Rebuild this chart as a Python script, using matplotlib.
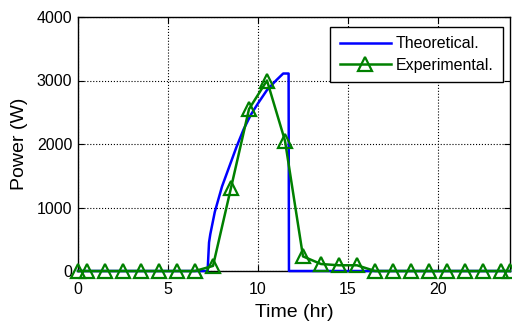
import matplotlib
matplotlib.use("Agg")
import matplotlib.pyplot as plt

# Theoretical curve
theo_t = [0, 7.2, 7.28, 7.35, 7.6, 8.0, 8.4, 8.8, 9.2, 9.6, 10.0, 10.5, 11.0, 11.4, 11.7, 11.72, 24]
theo_p = [0, 0, 450, 580, 930, 1330, 1640, 1950, 2230, 2460, 2640, 2850, 3000, 3110, 3110, 0, 0]

# Experimental points
exp_t = [0, 0.5, 1.5, 2.5, 3.5, 4.5, 5.5, 6.5, 7.5, 8.5, 9.5, 10.5, 11.5, 12.5, 13.5,
         14.5, 15.5, 16.5, 17.5, 18.5, 19.5, 20.5, 21.5, 22.5, 23.5, 24]
exp_p = [0, 0, 0, 0, 0, 0, 0, 0, 80, 1310, 2550, 3000, 2050, 230, 110,
         90, 90, 0, 0, 0, 0, 0, 0, 0, 0, 0]

xticks = [0, 5, 10, 15, 20]
yticks = [0, 1000, 2000, 3000, 4000]

plt.rcParams['font.family'] = ['Liberation Sans', 'DejaVu Sans']

fig = plt.figure(figsize=(5.12, 3.22), dpi=100)
ax = fig.add_axes([78/512, 1-271/322, (510-78)/512, (271-17)/322])

ax.plot(theo_t, theo_p, color=(0, 0, 1), lw=1.8, label='Theoretical.', clip_on=False, zorder=3)
ax.plot(exp_t, exp_p, color=(0, 0.5, 0), lw=1.8, marker='^', markersize=9.5,
        markerfacecolor='none', markeredgewidth=1.6, label='Experimental.', clip_on=False, zorder=4)

ax.set_xlim(0, 24)
ax.set_ylim(0, 4000)
ax.set_xticks(xticks)
ax.set_yticks(yticks)
ax.tick_params(direction='in', top=True, right=True, labelsize=11.5, length=4, width=0.8)
ax.tick_params(axis='x', pad=8)
ax.tick_params(axis='y', pad=4)
ax.grid(True, color='black', linestyle=':', linewidth=0.8)
for s in ax.spines.values():
    s.set_linewidth(1.0)
ax.set_xlabel('Time (hr)', fontsize=14, labelpad=5)
ax.set_ylabel('Power (W)', fontsize=14, labelpad=6)

leg = ax.legend(loc='upper right', bbox_to_anchor=(0.984, 0.961), borderaxespad=0,
                fontsize=11.5, handlelength=3.2, handletextpad=0.3, labelspacing=0.4,
                fancybox=False, framealpha=1, edgecolor='black', borderpad=0.6)
leg.get_frame().set_linewidth(1.0)

fig.savefig('out.png', dpi=100)
